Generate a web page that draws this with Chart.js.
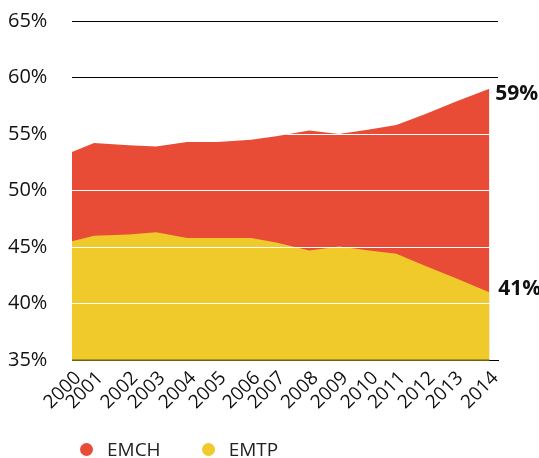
<!DOCTYPE html>
<html>
<head>
<meta charset="utf-8">
<script src="https://cdn.jsdelivr.net/npm/chart.js@4.4.0/dist/chart.umd.min.js"></script>
<style>
  html, body { margin: 0; padding: 0; background: #fff; }
  #wrap { position: relative; width: 539px; height: 458px; }
  #c { position: absolute; left: 0; top: 0; }
  #legend { position: absolute; left: 80px; top: 436px; display: flex; align-items: center;
            font-family: "Open Sans", sans-serif; font-size: 19px; color: #222; }
  .item { display: flex; align-items: center; margin-right: 41px; }
  .dot { width: 13px; height: 13px; border-radius: 50%; margin-right: 14px; }
</style>
</head>
<body>
<div id="wrap">
  <canvas id="c" width="539" height="458"></canvas>
  <div id="legend"></div>
</div>
<script>
// ---- data ----
const years = ['2000','2001','2002','2003','2004','2005','2006','2007','2008','2009','2010','2011','2012','2013','2014'];
const surveyDates = [2000.00, 2000.74, 2001.91, 2002.82, 2003.86, 2004.87, 2006.01, 2006.85, 2007.96, 2008.96, 2009.97, 2010.88, 2011.88, 2012.82, 2014.00];
const emch = [53.4, 54.2, 54.0, 53.9, 54.3, 54.3, 54.5, 54.8, 55.3, 55.0, 55.4, 55.8, 56.8, 57.8, 59.0];
const emtp = [45.5, 46.0, 46.1, 46.3, 45.8, 45.8, 45.8, 45.4, 44.7, 45.05, 44.7, 44.4, 43.3, 42.3, 41.0];
const yTicks = [35, 40, 45, 50, 55, 60, 65];
const seriesNames = ['EMCH', 'EMTP'];
const seriesColors = ['#E84C36', '#F0CA2A'];
const endLabels = ['59%', '41%'];

const FONT = '"Open Sans", sans-serif';

const overlay = {
  id: 'overlay',
  afterDatasetsDraw(chart) {
    const { ctx, chartArea, scales: { x, y } } = chart;
    const pts = chart.getDatasetMeta(0).data;
    const align = (p) => Math.round(p - 0.5) + 0.5;
    // white grid lines over the filled areas
    ctx.save();
    ctx.beginPath();
    ctx.moveTo(pts[0].x, y.bottom);
    pts.forEach(p => ctx.lineTo(p.x, p.y));
    ctx.lineTo(pts[pts.length - 1].x, y.bottom);
    ctx.closePath();
    ctx.clip();
    ctx.strokeStyle = '#ffffff';
    ctx.lineWidth = 1;
    yTicks.forEach(t => {
      if (t === y.min) return;
      const py = align(y.getPixelForValue(t));
      ctx.beginPath();
      ctx.moveTo(chartArea.left, py);
      ctx.lineTo(chartArea.right, py);
      ctx.stroke();
    });
    ctx.restore();
    // base line under the areas
    ctx.save();
    ctx.strokeStyle = '#9a8216';
    ctx.lineWidth = 1.5;
    ctx.beginPath();
    ctx.moveTo(chartArea.left, y.bottom);
    ctx.lineTo(pts[pts.length - 1].x, y.bottom);
    ctx.stroke();
    ctx.restore();
    // end value labels
    ctx.save();
    ctx.fillStyle = '#111';
    ctx.font = 'bold 21px ' + FONT;
    ctx.textBaseline = 'middle';
    ctx.textAlign = 'left';
    const offs = [[6, 5], [9, -3]];
    [0, 1].forEach(i => {
      const m = chart.getDatasetMeta(i).data;
      const last = m[m.length - 1];
      ctx.fillText(endLabels[i], last.x + offs[i][0], last.y + offs[i][1]);
    });
    ctx.restore();
  }
};

new Chart(document.getElementById('c'), {
  type: 'line',
  data: {
    datasets: [
      {
        label: seriesNames[0],
        data: surveyDates.map((d, i) => ({ x: d, y: emch[i] })),
        backgroundColor: seriesColors[0],
        borderWidth: 0,
        pointRadius: 0,
        fill: 'start',
        tension: 0,
        order: 2
      },
      {
        label: seriesNames[1],
        data: surveyDates.map((d, i) => ({ x: d, y: emtp[i] })),
        backgroundColor: seriesColors[1],
        borderWidth: 0,
        pointRadius: 0,
        fill: 'start',
        tension: 0,
        order: 1
      }
    ]
  },
  options: {
    responsive: false,
    animation: false,
    devicePixelRatio: 1,
    layout: { padding: { left: 8, right: 41, top: 21, bottom: 38 } },
    plugins: {
      legend: { display: false },
      tooltip: { enabled: false }
    },
    scales: {
      x: {
        type: 'linear',
        min: 2000,
        max: 2014.29,
        afterBuildTicks: (scale) => { scale.ticks = surveyDates.map(v => ({ value: v })); },
        afterFit: (scale) => { scale.height = 60; },
        grid: { display: false, drawTicks: false },
        border: { display: true, color: '#000', width: 1 },
        ticks: {
          autoSkip: false,
          minRotation: 45,
          maxRotation: 45,
          padding: 7,
          labelOffset: 6,
          color: '#111',
          font: { family: FONT, size: 19 },
          callback: (v, i) => years[i]
        }
      },
      y: {
        min: 35,
        max: 65,
        afterBuildTicks: (scale) => { scale.ticks = yTicks.map(v => ({ value: v })); },
        afterFit: (scale) => { scale.width = 64; },
        grid: {
          color: (c) => (c.tick && c.tick.value >= 60 ? '#000' : 'rgba(0,0,0,0)'),
          lineWidth: 1,
          drawTicks: false
        },
        border: { display: false },
        ticks: {
          crossAlign: 'far',
          padding: 0,
          color: '#111',
          font: { family: FONT, size: 20 },
          callback: (v) => v + '%'
        }
      }
    }
  },
  plugins: [overlay]
});

// legend (HTML text)
const lg = document.getElementById('legend');
seriesNames.forEach((n, i) => {
  const it = document.createElement('div');
  it.className = 'item';
  const d = document.createElement('span');
  d.className = 'dot';
  d.style.background = seriesColors[i];
  const t = document.createElement('span');
  t.textContent = n;
  it.appendChild(d); it.appendChild(t);
  lg.appendChild(it);
});
</script>
</body>
</html>
